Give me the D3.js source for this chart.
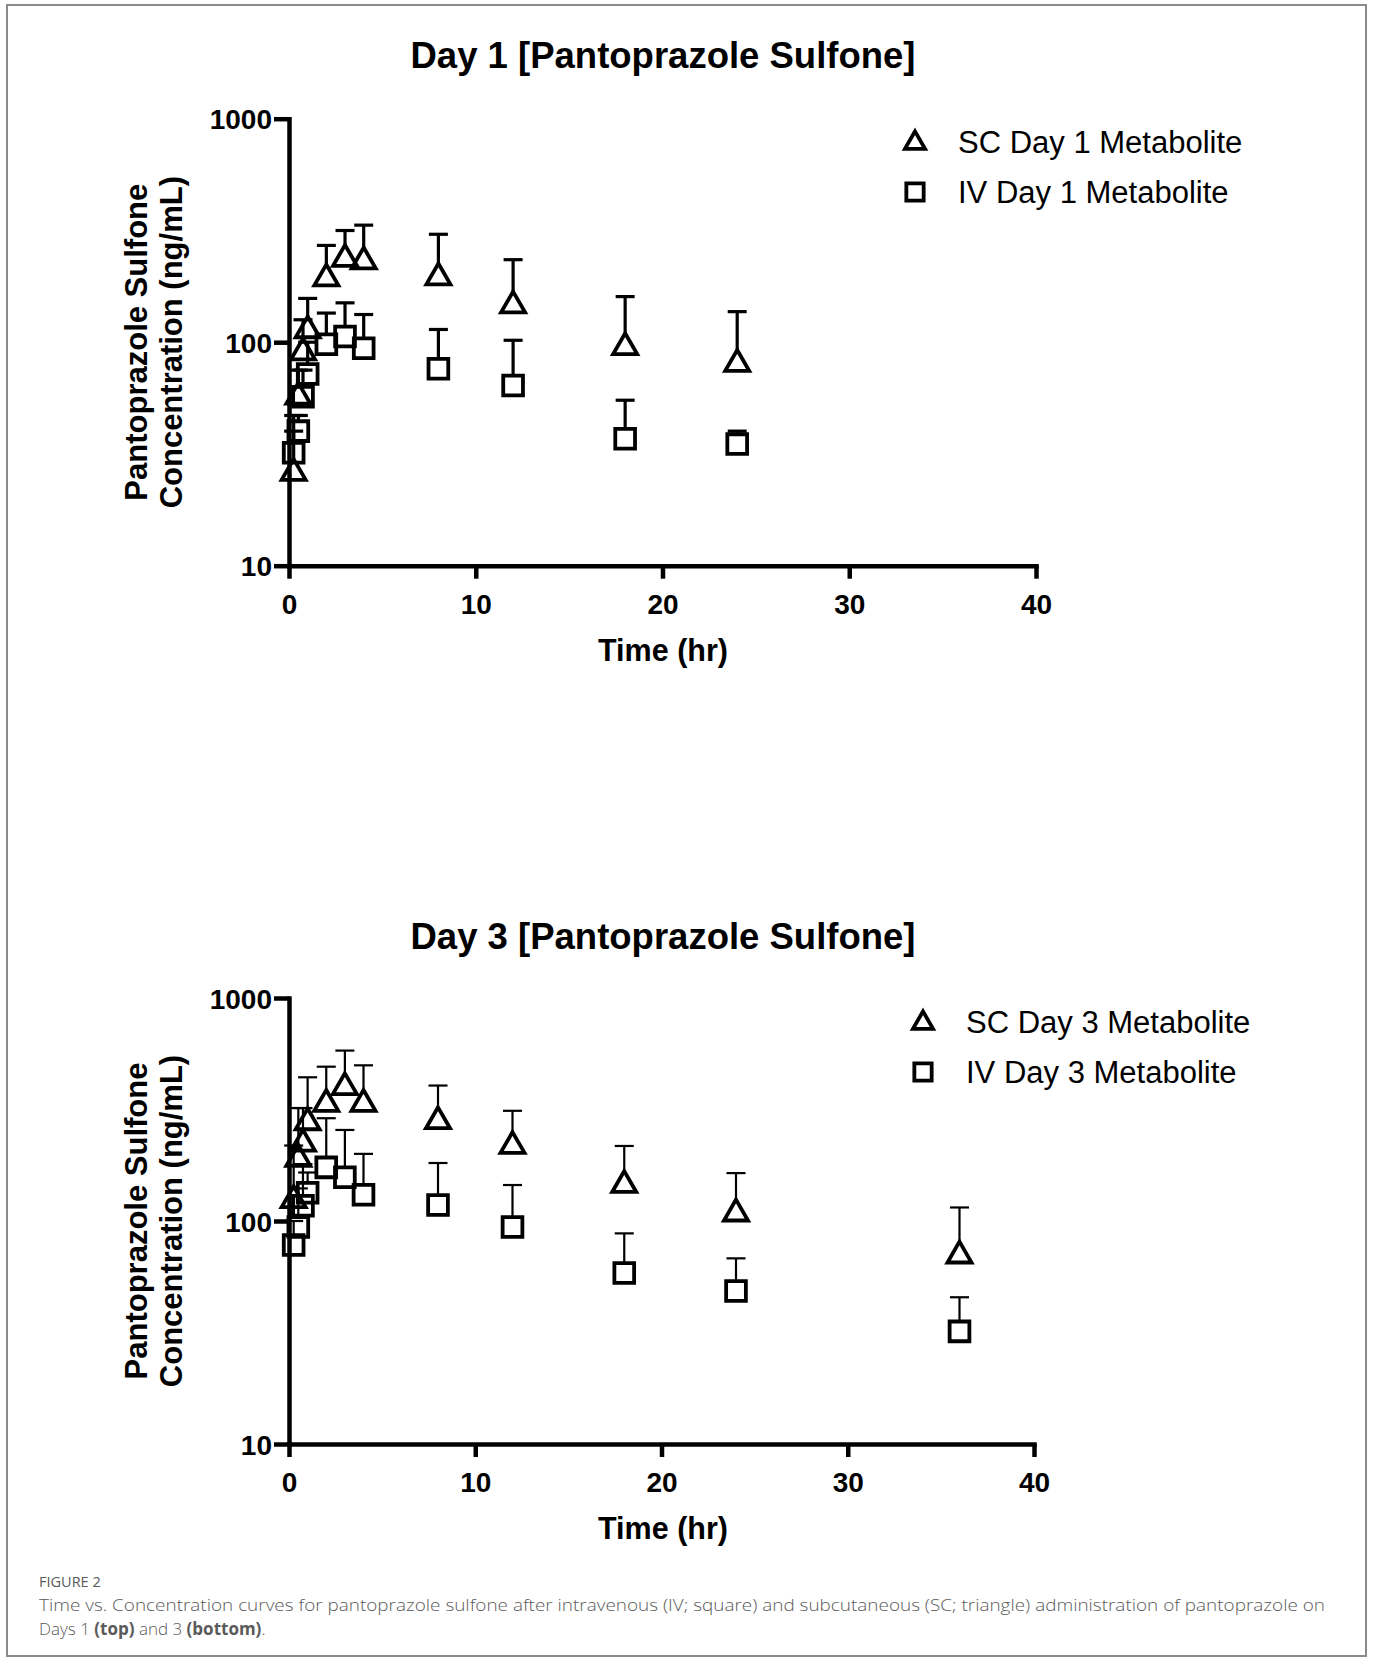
<!DOCTYPE html>
<html>
<head>
<meta charset="utf-8">
<script src="https://cdn.jsdelivr.net/npm/d3@7"></script>
<style>
  body { margin: 0; background: #fff; }
  svg { display: block; }
</style>
</head>
<body>
<div id="fig"></div>
<script>
// ---- data ----
const xTicks = [0, 10, 20, 30, 40];
const yTicks = [10, 100, 1000];

// Day 1
const day1ScTime  = [0.25, 0.5, 0.75, 1, 2, 3, 4, 8, 12, 18, 24];
const day1ScMean  = [26, 57, 90, 113, 193, 236, 230, 195, 146, 95, 80];
const day1ScUpper = [47, 75, 126, 157, 271, 316, 334, 304, 234, 160, 137];
const day1IvTime  = [0.25, 0.5, 0.75, 1, 2, 3, 4, 8, 12, 18, 24];
const day1IvMean  = [32, 40, 57, 72, 98, 106, 94, 76, 64, 37, 35];
const day1IvUpper = [40, 47, 75, 100, 135, 150, 133, 114, 102, 55, 40];

// Day 3
const day3ScTime  = [0.25, 0.5, 0.75, 1, 2, 3, 4, 8, 12, 18, 24, 36];
const day3ScMean  = [124, 190, 222, 277, 335, 398, 335, 280, 217, 145, 108, 70];
const day3ScUpper = [218, 321, 321, 441, 492, 581, 499, 405, 312, 217, 164, 115];
const day3IvTime  = [0.25, 0.5, 0.75, 1, 2, 3, 4, 8, 12, 18, 24, 36];
const day3IvMean  = [78, 94, 117, 134, 174, 157, 131, 118, 94, 58.5, 48.5, 32];
const day3IvUpper = [100, 140, 180, 165, 289, 256, 200, 182, 145, 88, 68, 45.5];

const W = 1373, H = 1661;
const FONT = "'Liberation Sans', Arial, Helvetica, sans-serif";

const svg = d3.select('#fig').append('svg')
    .attr('width', W).attr('height', H)
    .attr('viewBox', `0 0 ${W} ${H}`);

// outer frame
svg.append('rect')
    .attr('x', 7).attr('y', 5)
    .attr('width', 1359).attr('height', 1651)
    .attr('fill', 'none')
    .attr('stroke', '#8a8a8a')
    .attr('stroke-width', 2);

const zip = (t, m, u) => t.map((d, i) => ({ t: d, mean: m[i], upper: u[i] }));

function drawPanel(cfg) {
    const x = d3.scaleLinear().domain([0, 40]).range([cfg.left, cfg.right]);
    const y = d3.scaleLog().domain([10, 1000]).range([cfg.bottom, cfg.top]);

    const g = svg.append('g');

    // title
    g.append('text')
        .attr('x', 663).attr('y', cfg.titleY)
        .attr('text-anchor', 'middle')
        .attr('font-family', FONT)
        .attr('font-weight', 'bold')
        .attr('font-size', 36.5)
        .text(cfg.title);

    // axes
    const yAxis = g.append('g')
        .attr('transform', `translate(${cfg.left},0)`)
        .call(d3.axisLeft(y).tickValues(yTicks).tickFormat(d3.format('d'))
            .tickSize(15).tickSizeOuter(0).tickPadding(2));
    const xAxis = g.append('g')
        .attr('transform', `translate(0,${cfg.bottom})`)
        .call(d3.axisBottom(x).tickValues(xTicks).tickSize(13).tickSizeOuter(0).tickPadding(15));

    [xAxis, yAxis].forEach(ax => {
        ax.select('.domain').attr('stroke', '#000').attr('stroke-width', 4.5).attr('stroke-linecap', 'square');
        ax.selectAll('.tick line').attr('stroke', '#000').attr('stroke-width', 4.5);
        ax.selectAll('.tick text')
            .attr('fill', '#000')
            .attr('font-family', FONT)
            .attr('font-weight', 'bold')
            .attr('font-size', 28);
    });
    yAxis.selectAll('.tick text').attr('dy', '0.36em');

    // axis titles
    g.append('text')
        .attr('x', 663).attr('y', cfg.bottom + 95)
        .attr('text-anchor', 'middle')
        .attr('font-family', FONT)
        .attr('font-weight', 'bold')
        .attr('font-size', 30.5)
        .text('Time (hr)');

    const yMid = (cfg.top + cfg.bottom) / 2;
    const yl = g.append('text')
        .attr('transform', `translate(147,${yMid}) rotate(-90)`)
        .attr('text-anchor', 'middle')
        .attr('font-family', FONT)
        .attr('font-weight', 'bold')
        .attr('font-size', 31);
    yl.append('tspan').attr('x', 0).attr('y', 0).text('Pantoprazole Sulfone');
    yl.append('tspan').attr('x', 0).attr('y', 35).text('Concentration (ng/mL)');

    const tri = d3.symbol().type(d3.symbolTriangle).size(250);
    const sq = d3.symbol().type(d3.symbolSquare).size(390);

    const series = [
        { data: cfg.iv, sym: sq, half: 10 },
        { data: cfg.sc, sym: tri, half: 11.5 }
    ];

    series.forEach(s => {
        const pts = g.append('g');
        // error bars (upper only)
        pts.selectAll('line.err')
            .data(s.data)
            .join('line')
            .attr('class', 'err')
            .attr('x1', d => x(d.t)).attr('x2', d => x(d.t))
            .attr('y1', d => y(d.mean) - s.half)
            .attr('y2', d => y(d.upper))
            .attr('stroke', '#000')
            .attr('stroke-width', cfg.errW);
        pts.selectAll('line.cap')
            .data(s.data)
            .join('line')
            .attr('class', 'cap')
            .attr('x1', d => x(d.t) - 9.5).attr('x2', d => x(d.t) + 9.5)
            .attr('y1', d => y(d.upper)).attr('y2', d => y(d.upper))
            .attr('stroke', '#000')
            .attr('stroke-width', cfg.errW);
        pts.selectAll('path')
            .data(s.data)
            .join('path')
            .attr('transform', d => `translate(${x(d.t)},${y(d.mean)})`)
            .attr('d', s.sym)
            .attr('fill', 'none')
            .attr('stroke', '#000')
            .attr('stroke-width', 3.8);
    });

    // legend
    const lg = g.append('g');
    cfg.legend.forEach((lab, i) => {
        const ly = cfg.legendY + i * 50;
        lg.append('path')
            .attr('transform', `translate(${cfg.legendX},${ly + (i === 0 ? 1 : 0)})`)
            .attr('d', i === 0 ? d3.symbol().type(d3.symbolTriangle).size(175)() : d3.symbol().type(d3.symbolSquare).size(300)())
            .attr('fill', 'none')
            .attr('stroke', '#000')
            .attr('stroke-width', 3.8);
        lg.append('text')
            .attr('x', cfg.legendX + 43).attr('y', ly)
            .attr('dy', '0.36em')
            .attr('font-family', FONT)
            .attr('font-size', 31)
            .text(lab);
    });
}

drawPanel({
    title: 'Day 1 [Pantoprazole Sulfone]',
    titleY: 68,
    left: 289, right: 1036, top: 118.7, bottom: 565.7,
    errW: 3.2,
    sc: zip(day1ScTime, day1ScMean, day1ScUpper),
    iv: zip(day1IvTime, day1IvMean, day1IvUpper),
    legend: ['SC Day 1 Metabolite', 'IV Day 1 Metabolite'],
    legendX: 915, legendY: 142
});

drawPanel({
    title: 'Day 3 [Pantoprazole Sulfone]',
    titleY: 949,
    left: 289, right: 1034, top: 998, bottom: 1444,
    errW: 2.2,
    sc: zip(day3ScTime, day3ScMean, day3ScUpper),
    iv: zip(day3IvTime, day3IvMean, day3IvUpper),
    legend: ['SC Day 3 Metabolite', 'IV Day 3 Metabolite'],
    legendX: 923, legendY: 1022
});

// caption
const CAP = "'Open Sans', 'Noto Sans', sans-serif";
svg.append('text')
    .attr('x', 39).attr('y', 1587)
    .attr('font-family', CAP)
    .attr('font-size', 14.5)
    .attr('fill', '#5a5a5a')
    .text('FIGURE 2');

svg.append('text')
    .attr('x', 39).attr('y', 1611)
    .attr('font-family', CAP)
    .attr('font-size', 17)
    .attr('font-weight', 300)
    .attr('fill', '#5a5a5a')
    .attr('textLength', 1286)
    .attr('lengthAdjust', 'spacingAndGlyphs')
    .text('Time vs. Concentration curves for pantoprazole sulfone after intravenous (IV; square) and subcutaneous (SC; triangle) administration of pantoprazole on');

const l2 = svg.append('text')
    .attr('x', 39).attr('y', 1635)
    .attr('font-family', CAP)
    .attr('font-size', 17)
    .attr('font-weight', 300)
    .attr('fill', '#5a5a5a');
l2.append('tspan').text('Days 1 ');
l2.append('tspan').attr('font-weight', 'bold').text('(top)');
l2.append('tspan').text(' and 3 ');
l2.append('tspan').attr('font-weight', 'bold').text('(bottom)');
l2.append('tspan').text('.');
</script>
</body>
</html>
